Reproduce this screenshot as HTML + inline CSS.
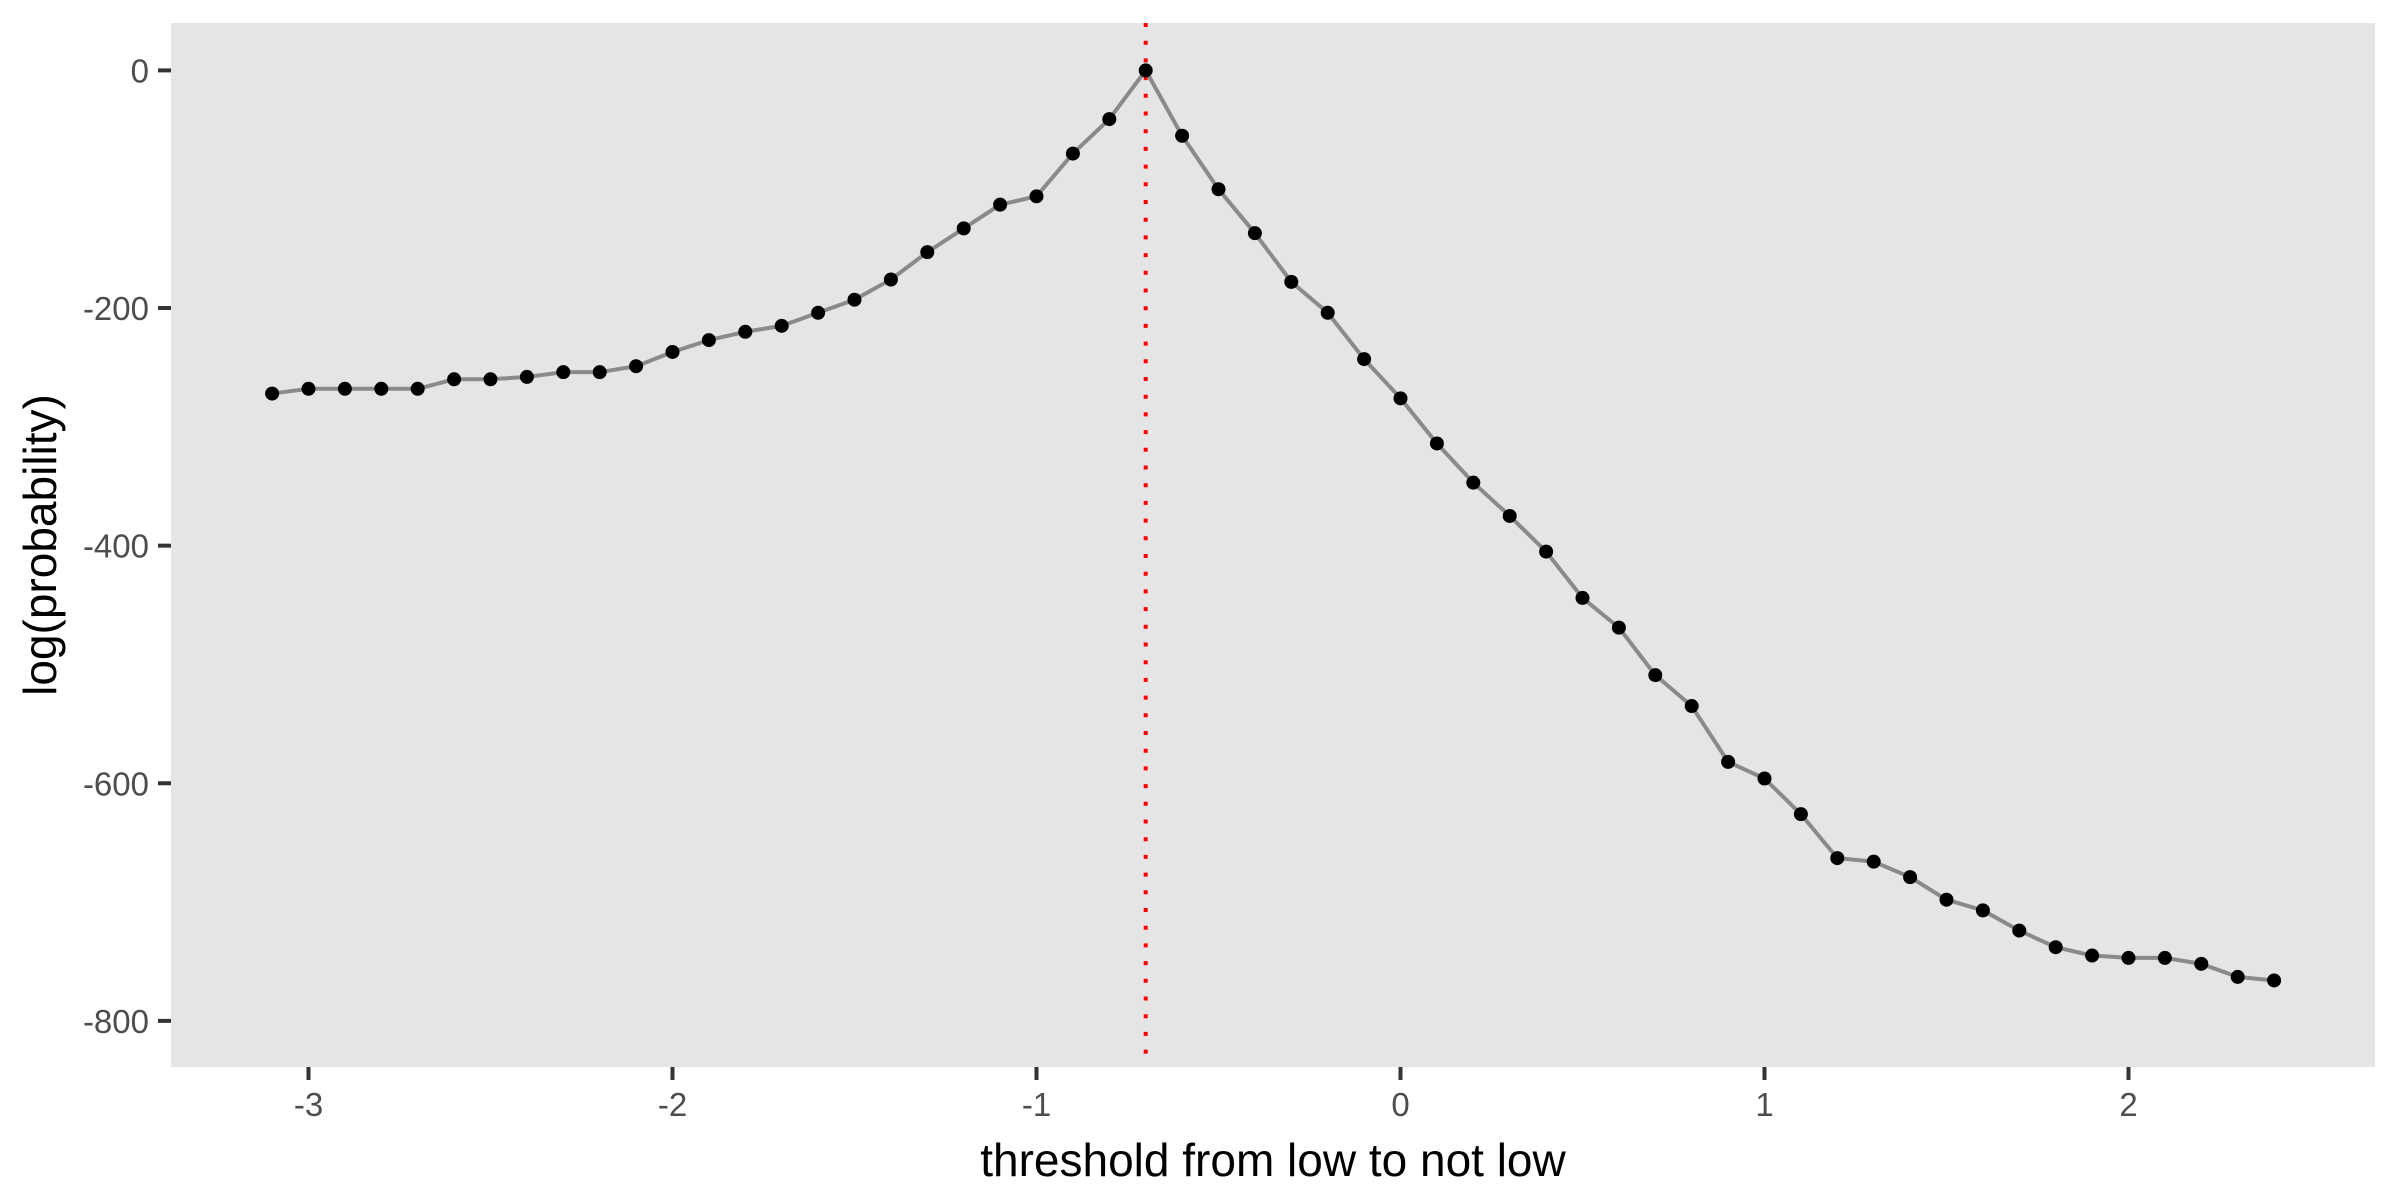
<!DOCTYPE html>
<html><head><meta charset="utf-8"><style>
body{margin:0;background:#fff}
svg{display:block;font-family:"Liberation Sans",Arial,sans-serif}
</style></head><body>
<svg id="chart" width="2400" height="1200" viewBox="0 0 2400 1200">
<rect x="0" y="0" width="2400" height="1200" fill="#fff"/>
<rect x="171" y="23" width="2204" height="1044" fill="#e5e5e5"/>
<g id="axes"></g>
<g id="marks"></g>
<text x="1273" y="1176" font-size="46" text-anchor="middle" fill="#000">threshold from low to not low</text>
<text transform="translate(56,545) rotate(-90)" font-size="46" text-anchor="middle" fill="#000">log(probability)</text>
</svg>
<script>
const xValues=[-3.1,-3.0,-2.9,-2.8,-2.7,-2.6,-2.5,-2.4,-2.3,-2.2,-2.1,-2.0,-1.9,-1.8,-1.7,-1.6,-1.5,-1.4,-1.3,-1.2,-1.1,-1.0,-0.9,-0.8,-0.7,-0.6,-0.5,-0.4,-0.3,-0.2,-0.1,0.0,0.1,0.2,0.3,0.4,0.5,0.6,0.7,0.8,0.9,1.0,1.1,1.2,1.3,1.4,1.5,1.6,1.7,1.8,1.9,2.0,2.1,2.2,2.3,2.4];
const yValues=[-272,-268,-268,-268,-268,-260,-260,-258,-254,-254,-249,-237,-227,-220,-215,-204,-193,-176,-153,-133,-113,-106,-70,-41,0,-55,-100,-137,-178,-204,-243,-276,-314,-347,-375,-405,-444,-469,-509,-535,-582,-596,-626,-663,-666,-679,-698,-707,-724,-738,-745,-747,-747,-752,-763,-766];
const xTicks=[-3,-2,-1,0,1,2];
const yTicks=[0,-200,-400,-600,-800];
const thresholdValue=[-0.7];

const NS="http://www.w3.org/2000/svg";
function X(v){return 1400.5+v*364;}
function Y(v){return 70.4-v*1.1881;}
function mk(tag,attrs,parent){const e=document.createElementNS(NS,tag);for(const k in attrs)e.setAttribute(k,attrs[k]);parent.appendChild(e);return e;}
const axes=document.getElementById('axes'),marks=document.getElementById('marks');

xTicks.forEach(t=>{
  const l=mk('line',{x1:X(t),x2:X(t),y1:1067,y2:1080,stroke:'#333','stroke-width':4},axes);
  
  
  const tx=mk('text',{x:X(t),y:1116,'font-size':33,'text-anchor':'middle',fill:'#4d4d4d'},axes);
  tx.textContent=t;
  
  
});
yTicks.forEach(t=>{
  const l=mk('line',{x1:158,x2:171,y1:Y(t),y2:Y(t),stroke:'#333','stroke-width':4},axes);
  
  
  const tx=mk('text',{x:149,y:Y(t)+12,'font-size':33,'text-anchor':'end',fill:'#4d4d4d'},axes);
  tx.textContent=t;
  
  
});

const pts=xValues.map((x,i)=>X(x)+','+Y(yValues[i])).join(' ');
const line=mk('polyline',{points:pts,fill:'none',stroke:'#8a8a8a','stroke-width':4,'stroke-linejoin':'round'},marks);



thresholdValue.forEach(v=>{
  const vl=mk('line',{x1:X(v),x2:X(v),y1:23,y2:1067,stroke:'#ff0000','stroke-width':4,'stroke-dasharray':'4 13.7'},marks);
  
  
});

xValues.forEach((x,i)=>{
  const c=mk('circle',{cx:X(x),cy:Y(yValues[i]),r:7,fill:'#000'},marks);
  
  
});
</script>
</body></html>
